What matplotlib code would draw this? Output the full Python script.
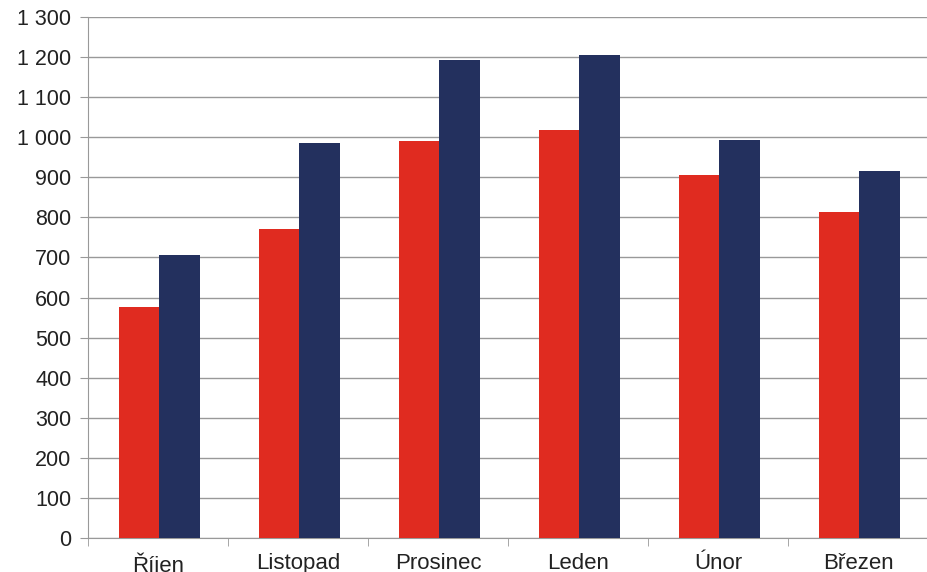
import numpy as np
import matplotlib.pyplot as plt
from matplotlib.ticker import FuncFormatter

months = ["Říjen", "Listopad", "Prosinec", "Leden", "Únor", "Březen"]
red_vals = [576, 772, 990, 1018, 905, 813]
blue_vals = [706, 986, 1193, 1205, 993, 915]

plt.rcParams['font.family'] = ['Liberation Sans', 'DejaVu Sans']

fig = plt.figure(figsize=(9.28, 5.72), dpi=100)
ax = fig.add_axes([88/928, 34/572, 840/928, 521/572])

x = np.arange(len(months))
w = 0.29
ax.bar(x - w/2 + 0.01, red_vals, width=w, color="#E02B20", zorder=3)
ax.bar(x + w/2 + 0.01, blue_vals, width=w, color="#23305E", zorder=3)

ax.set_xlim(-0.5, len(months) - 0.5)
ax.set_ylim(0, 1300)
ax.set_yticks(np.arange(0, 1301, 100))
ax.yaxis.set_major_formatter(FuncFormatter(lambda v, p: f"{int(v):,}".replace(",", " ")))
ax.yaxis.grid(True, color="#999999", linewidth=1, zorder=0)

ax.set_xticks(x)
ax.set_xticklabels(months)
ax.set_xticks(np.arange(-0.5, len(months)), minor=True)
ax.tick_params(axis="x", which="major", length=0, pad=10.5, labelsize=16, labelcolor="#222222")
ax.tick_params(axis="x", which="minor", length=6, color="#999999", direction="out")
ax.tick_params(axis="y", length=6, color="#999999", pad=6, labelsize=15.5, labelcolor="#222222")

for s in ["top", "right"]:
    ax.spines[s].set_visible(False)
for s in ["left", "bottom"]:
    ax.spines[s].set_color("#999999")

fig.savefig("out.png", dpi=100)
